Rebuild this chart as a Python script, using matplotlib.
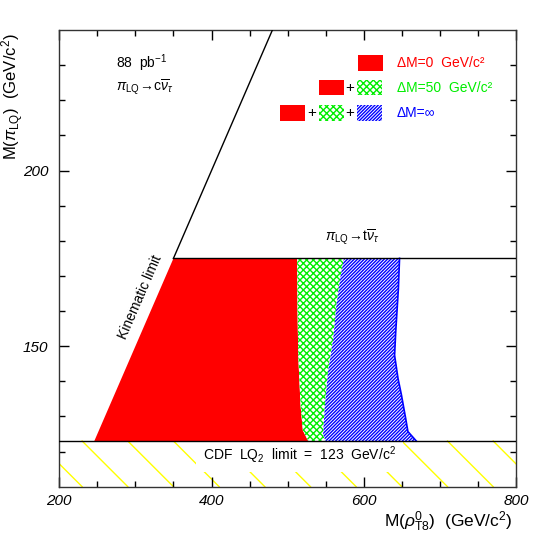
import matplotlib.pyplot as plt
import numpy as np
from matplotlib.patches import Rectangle

plt.rcParams['font.family'] = ['Liberation Sans', 'DejaVu Sans']
plt.rcParams['mathtext.fontset'] = 'custom'
plt.rcParams['mathtext.rm'] = 'Liberation Sans'
plt.rcParams['mathtext.it'] = 'Liberation Sans:italic'
plt.rcParams['mathtext.bf'] = 'Liberation Sans:bold'
plt.rcParams['hatch.linewidth'] = 1.0

# right-hand edges of the excluded regions
red_y = [175, 160, 147, 133, 126, 123]
red_x = [512.5, 513, 514, 517, 520, 527]
green_y = [175, 170, 161.6, 152.2, 142.7, 133.2, 124.7, 123]
green_x = [574, 569.5, 564, 560, 553, 549, 546.5, 550]
blue_y = [175, 166.4, 154.1, 147.4, 140.8, 136.1, 129.5, 125.7, 123]
blue_x = [647, 645.5, 642, 640.5, 645, 649.5, 655, 658, 669]

# kinematic limit line and the two horizontal limits
kin_x = [246, 350, 480]
kin_y = [123, 175, 240]
cdf_limit = 123
top_limit = 175

xlim = (200, 800)
ylim = (110, 240)

RED = "#ff0000"
GREEN = "#00ee00"
BLUE = "#0000ff"
GREEN_HATCH = "x" * 5
BLUE_HATCH = "/" * 10

fig = plt.figure(figsize=(5.45, 5.45), dpi=100)
ax = fig.add_axes([0.1088, 0.107, 0.838, 0.838])

# regions
ax.fill(kin_x[:2] + red_x, kin_y[:2] + red_y, color=RED, linewidth=0, zorder=2)
ax.fill(red_x + green_x[::-1], red_y + green_y[::-1], facecolor="white",
        edgecolor=GREEN, hatch=GREEN_HATCH, linewidth=0, zorder=2)
ax.fill(green_x + blue_x[::-1], green_y + blue_y[::-1], facecolor="white",
        edgecolor=BLUE, hatch=BLUE_HATCH, linewidth=0, zorder=2)
ax.plot(blue_x, blue_y, color=BLUE, lw=1.2, zorder=2)

# lines
ax.plot(kin_x[1:], kin_y[1:], color="black", lw=1, zorder=3)
ax.plot([kin_x[1], xlim[1]], [top_limit, top_limit], color="black", lw=1, zorder=3)
ax.plot(xlim, [cdf_limit, cdf_limit], color="black", lw=1, zorder=5)

# yellow hatching below the CDF limit
step = 60
for x0 in np.arange(170, xlim[1], step):
    ax.plot([x0, x0 + step], [cdf_limit, ylim[0]], color="#ffff00", lw=1, zorder=1)

ax.text(515.5, 119.1, "CDF  LQ$_2$  limit  =  123  GeV/c$^2$", ha="center", va="center",
        fontsize=10, zorder=1.5, bbox=dict(facecolor="white", edgecolor="none", pad=5))

angle = np.degrees(np.arctan2(kin_y[2] - kin_y[1], kin_x[2] - kin_x[1]))
ax.text(306, 164, "Kinematic limit", rotation=angle, transform_rotates_text=True,
        rotation_mode="anchor", ha="center", va="center", fontsize=10)

ax.text(549, 181, r"$\pi_{\rm LQ}\!\rightarrow\!{\rm t}\overline{\nu}_{\tau}$", ha="left",
        va="center", fontsize=10)
ax.text(0.124, 0.928, "88  pb$^{-1}$", transform=ax.transAxes, ha="left", va="center", fontsize=10)
ax.text(0.124, 0.875, r"$\pi_{\rm LQ}\!\rightarrow\!{\rm c}\overline{\nu}_{\tau}$",
        transform=ax.transAxes, ha="left", va="center", fontsize=10)

# legend
sw, sh = 0.055, 0.034
rows = [
    (0.911, [("red", 0.653)], "ΔM=0  GeV/c²", RED),
    (0.857, [("red", 0.569), ("green", 0.652)], "ΔM=50  GeV/c²", GREEN),
    (0.801, [("red", 0.483), ("green", 0.568), ("blue", 0.652)], "ΔM=∞", BLUE),
]
styles = {
    "red": dict(facecolor=RED, edgecolor=RED, linewidth=0),
    "green": dict(facecolor="white", edgecolor=GREEN, hatch=GREEN_HATCH, linewidth=0),
    "blue": dict(facecolor="white", edgecolor=BLUE, hatch=BLUE_HATCH, linewidth=0),
}
for y0, boxes, label, col in rows:
    for i, (kind, x0) in enumerate(boxes):
        ax.add_patch(Rectangle((x0, y0), sw, sh, transform=ax.transAxes, **styles[kind]))
        if i > 0:
            ax.text(x0 - 0.0155, y0 + sh / 2, "+", transform=ax.transAxes,
                    ha="center", va="center", fontsize=11)
    ax.text(0.739, y0 + sh / 2, label, transform=ax.transAxes, ha="left",
            va="center", fontsize=10, color=col)

ax.set_xlim(*xlim)
ax.set_ylim(*ylim)
ax.set_xticks([200, 400, 600, 800])
ax.set_xticks(np.arange(250, 800, 50), minor=True)
ax.set_yticks([150, 200])
ax.set_yticks(np.arange(120, 240, 10), minor=True)
ax.tick_params(which="both", direction="in", top=True, right=True, width=1)
ax.tick_params(which="major", length=7, labelsize=11)
ax.tick_params(axis="x", which="major", pad=5)
ax.tick_params(axis="y", which="major", pad=8)
ax.tick_params(which="minor", length=4)
for lbl in ax.get_xticklabels() + ax.get_yticklabels():
    lbl.set_fontstyle("italic")
for sp in ax.spines.values():
    sp.set_linewidth(1)
    sp.set_color("#333333")

ax.set_xlabel(r"M($\rho^{0}_{\rm T8}$)  (GeV/c$^2$)", fontsize=12.5, loc="right")
ax.xaxis.set_label_coords(0.993, -0.05)
ax.set_ylabel(r"M($\pi_{\rm LQ}$)  (GeV/c$^2$)", fontsize=12, loc="top")
ax.yaxis.set_label_coords(-0.072, 0.993)

fig.savefig("out.png", dpi=100)
